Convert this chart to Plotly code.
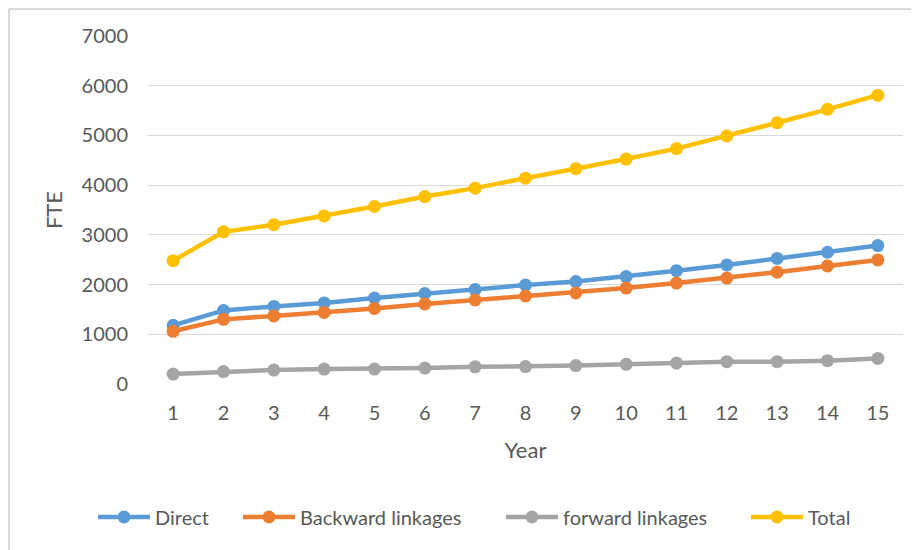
import plotly.graph_objects as go

years = list(range(1, 16))
direct = [1180, 1480, 1560, 1630, 1730, 1820, 1900, 1990, 2060, 2160, 2280, 2395, 2525, 2650, 2785]
backward = [1060, 1300, 1370, 1440, 1520, 1610, 1690, 1770, 1830, 1930, 2030, 2130, 2250, 2375, 2495]
forward = [200, 250, 280, 300, 300, 320, 345, 350, 370, 395, 420, 450, 450, 470, 515]
total = [2480, 3060, 3205, 3380, 3570, 3770, 3940, 4140, 4330, 4525, 4735, 4990, 5255, 5525, 5810]

names = ["Direct", "Backward linkages", "forward linkages", "Total"]
colors = ["#5B9BD5", "#ED7D31", "#A5A5A5", "#FFC000"]
series = [direct, backward, forward, total]
legend_ids = ["legend", "legend2", "legend3", "legend4"]
legend_line_start = [98, 243, 506, 751]  # page px where each legend line begins

OFF = 8  # page body margin
W, H = 919 - OFF, 550 - OFF
L, T = 148 - OFF, 36 - OFF
R = W - (903 - OFF)
B = H - (384 - OFF)
pw = W - L - R
ph = H - T - B

FONT = "Lato"
TXT = "#595959"

fig = go.Figure()
for name, col, ys, lg in zip(names, colors, series, legend_ids):
    fig.add_trace(go.Scatter(
        x=years, y=ys, name=name, mode="lines+markers",
        line=dict(color=col, width=4.5),
        marker=dict(color=col, size=13),
        legend=lg,
    ))

legend_common = dict(
    orientation="h", yanchor="middle", y=(H - (517 - OFF) - B) / ph,
    xanchor="left", font=dict(family=FONT, size=20, color=TXT),
    itemwidth=52, bgcolor="rgba(0,0,0,0)", borderwidth=0,
    tracegroupgap=0,
)
legends = {}
for lg, px in zip(legend_ids, legend_line_start):
    d = dict(legend_common)
    d["x"] = (px - OFF - 5 - L) / pw
    legends[lg] = d

fig.update_layout(
    width=W, height=H,
    margin=dict(l=L, r=R, t=T, b=B, autoexpand=False),
    paper_bgcolor="white", plot_bgcolor="white",
    font=dict(family=FONT, size=20, color=TXT),
    showlegend=True,
    **legends,
    xaxis=dict(
        range=[0.5, 15.5], tickmode="array", tickvals=years,
        ticktext=[str(y) for y in years],
        showgrid=False, zeroline=False, showline=False, ticks="",
        ticklabelstandoff=15,
        tickfont=dict(family=FONT, size=20, color=TXT),
        title=dict(text="Year", font=dict(family=FONT, size=22, color=TXT), standoff=19),
        automargin=False, fixedrange=True,
    ),
    yaxis=dict(
        range=[0, 7000], tickmode="array", tickvals=list(range(0, 7001, 1000)),
        showgrid=True, gridcolor="#D9D9D9", gridwidth=1.3,
        zeroline=False, showline=False, ticks="",
        ticklabelstandoff=19,
        tickfont=dict(family=FONT, size=20, color=TXT),
        title=dict(text="FTE", font=dict(family=FONT, size=22, color=TXT), standoff=12),
        automargin=False, fixedrange=True,
    ),
)

# outer chart border (top and left edges visible in the reference)
bx = (9 - OFF - L) / pw
by = (H - (9 - OFF) - B) / ph
fig.add_shape(type="line", xref="paper", yref="paper",
              x0=bx, x1=(W - L) / pw, y0=by, y1=by,
              line=dict(color="#D9D9D9", width=2), layer="below")
fig.add_shape(type="line", xref="paper", yref="paper",
              x0=bx, x1=bx, y0=by, y1=-B / ph,
              line=dict(color="#D9D9D9", width=2), layer="below")

fig.write_html("out.html")
